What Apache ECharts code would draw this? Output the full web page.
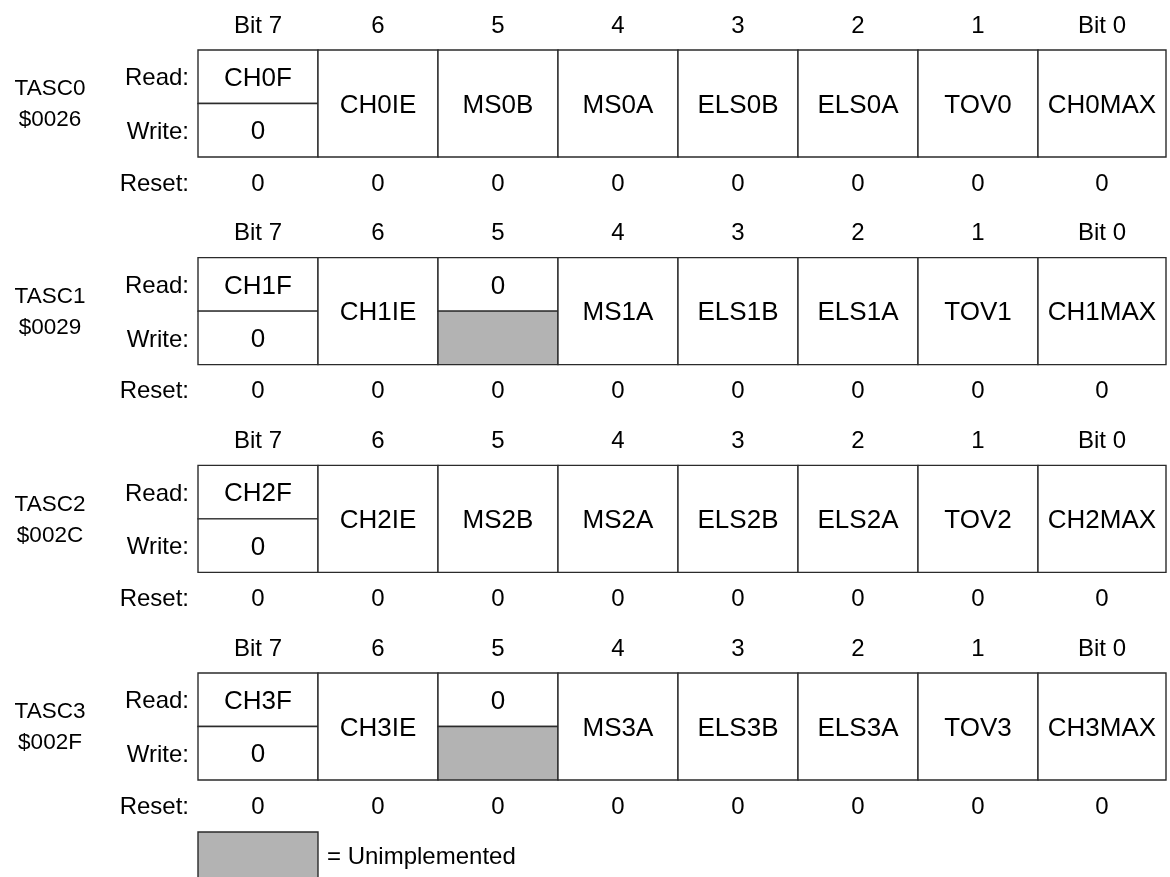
<!DOCTYPE html>
<html>
<head>
<meta charset="utf-8">
<title>TASC registers</title>
<script src="https://cdn.jsdelivr.net/npm/echarts@6/dist/echarts.min.js"></script>
<style>
  html, body { margin: 0; padding: 0; background: #fff; }
  #main { width: 1170px; height: 877px; }
</style>
</head>
<body>
<div id="main"></div>
<script>
// register names / addresses
var regNames = ['TASC0', 'TASC1', 'TASC2', 'TASC3'];
var regAddrs = ['$0026', '$0029', '$002C', '$002F'];
// bit header, left to right
var bitLabels = ['Bit 7', '6', '5', '4', '3', '2', '1', 'Bit 0'];
// read row (also text of the merged cell when write is '=')
var readRow = [
  ['CH0F', 'CH0IE', 'MS0B', 'MS0A', 'ELS0B', 'ELS0A', 'TOV0', 'CH0MAX'],
  ['CH1F', 'CH1IE', '0', 'MS1A', 'ELS1B', 'ELS1A', 'TOV1', 'CH1MAX'],
  ['CH2F', 'CH2IE', 'MS2B', 'MS2A', 'ELS2B', 'ELS2A', 'TOV2', 'CH2MAX'],
  ['CH3F', 'CH3IE', '0', 'MS3A', 'ELS3B', 'ELS3A', 'TOV3', 'CH3MAX']
];
// write row: '=' same cell as read, '-' unimplemented
var writeRow = [
  ['0', '=', '=', '=', '=', '=', '=', '='],
  ['0', '=', '-', '=', '=', '=', '=', '='],
  ['0', '=', '=', '=', '=', '=', '=', '='],
  ['0', '=', '-', '=', '=', '=', '=', '=']
];
var resetRow = [
  ['0', '0', '0', '0', '0', '0', '0', '0'],
  ['0', '0', '0', '0', '0', '0', '0', '0'],
  ['0', '0', '0', '0', '0', '0', '0', '0'],
  ['0', '0', '0', '0', '0', '0', '0', '0']
];
var rowLabels = ['Read:', 'Write:', 'Reset:'];
var legendText = '= Unimplemented';

// 样式
var FONT = '"Liberation Sans", Arial, Helvetica, sans-serif';
var LINE = '#2b2b2b';
var GREY = '#b3b3b3';
var BOX_H = 107;
var TEXT_DY = 2;

var myChart = echarts.init(document.getElementById('main'));

function box(x, y, w, h, fill) {
  return {
    type: 'rect',
    shape: { x: x, y: y, width: w, height: h },
    style: { fill: fill, stroke: LINE, lineWidth: 1.4 }
  };
}
function label(x, y, str, size, align) {
  return {
    type: 'text',
    x: x,
    y: y + TEXT_DY,
    style: {
      text: str,
      fill: '#000',
      font: size + 'px ' + FONT,
      align: align || 'center',
      verticalAlign: 'middle'
    }
  };
}

// one cell = one bit of one register
function renderCell(params, api) {
  var c = api.value(0), r = api.value(1);
  var cs = params.coordSys;
  var p0 = api.coord([c, r]);
  var p1 = api.coord([c + 1, r]);
  var x0 = p0[0];
  var x1 = c === bitLabels.length - 1 ? cs.x + cs.width : p1[0];
  var w = x1 - x0;
  var top = p0[1], mid = top + BOX_H / 2, bot = top + BOX_H;
  var cx = (x0 + x1) / 2;
  var rd = readRow[r][c], wr = writeRow[r][c];
  var kids = [];
  if (wr === '=') {
    kids.push(box(x0, top, w, BOX_H, '#fff'));
    kids.push(label(cx, (top + bot) / 2, rd, 26));
  } else {
    kids.push(box(x0, top, w, BOX_H / 2, '#fff'));
    kids.push(box(x0, mid, w, BOX_H / 2, wr === '-' ? GREY : '#fff'));
    kids.push(label(cx, top + BOX_H / 4, rd, 26));
    if (wr !== '-') kids.push(label(cx, mid + BOX_H / 4, wr, 26));
  }
  kids.push(label(cx, top - 26, bitLabels[c], 24));
  kids.push(label(cx, bot + 25, resetRow[r][c], 24));
  return { type: 'group', children: kids };
}

// register name + Read/Write/Reset labels
function renderRegLabel(params, api) {
  var r = api.value(1);
  var cs = params.coordSys;
  var top = api.coord([0, r])[1];
  var x = cs.x;
  return {
    type: 'group',
    children: [
      label(x - 148, top + 37, regNames[r], 22.5),
      label(x - 148, top + 68, regAddrs[r], 22.5),
      label(x - 9, top + BOX_H / 4, rowLabels[0], 24, 'right'),
      label(x - 9, top + BOX_H * 3 / 4, rowLabels[1], 24, 'right'),
      label(x - 9, top + BOX_H + 25, rowLabels[2], 24, 'right')
    ]
  };
}

function renderLegend(params, api) {
  var r = api.value(1);
  var p0 = api.coord([0, r]);
  var p1 = api.coord([1, r]);
  var bot = p0[1] + BOX_H;
  return {
    type: 'group',
    children: [
      box(p0[0], bot + 52, p1[0] - p0[0], 60, GREY),
      label(p1[0] + 9, bot + 75, legendText, 24, 'left')
    ]
  };
}

var cellData = [];
for (var r = 0; r < regNames.length; r++) {
  for (var c = 0; c < bitLabels.length; c++) {
    cellData.push([c, r]);
  }
}
var regData = regNames.map(function (n, i) { return [0, i]; });

var option = {
  animation: false,
  grid: { left: 198, right: 4, top: 50, bottom: 204 },
  // 8 columns of 120px, last one a bit wider
  xAxis: { type: 'value', min: 0, max: 8.0667, show: false },
  yAxis: { type: 'value', min: 0, max: 3, inverse: true, show: false },
  series: [
    { type: 'custom', renderItem: renderCell, data: cellData, silent: true },
    { type: 'custom', renderItem: renderRegLabel, data: regData, silent: true },
    { type: 'custom', renderItem: renderLegend, data: [[0, regNames.length - 1]], silent: true }
  ]
};
myChart.setOption(option);
</script>
</body>
</html>
